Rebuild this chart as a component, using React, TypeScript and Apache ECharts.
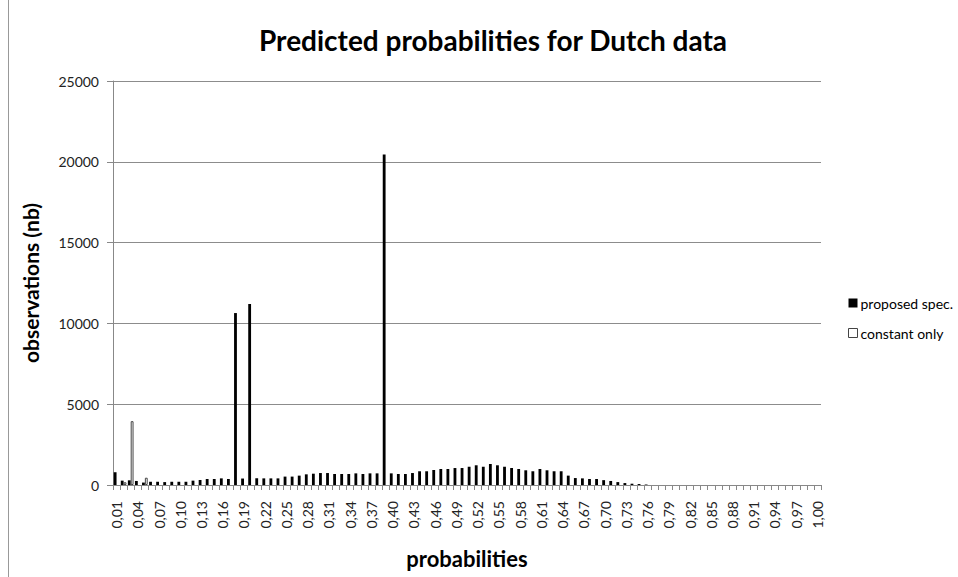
import React, { useEffect, useRef } from "react";
import * as echarts from "echarts";

const categories = [
  "0,01","0,02","0,03","0,04","0,05","0,06","0,07","0,08","0,09","0,10",
  "0,11","0,12","0,13","0,14","0,15","0,16","0,17","0,18","0,19","0,20",
  "0,21","0,22","0,23","0,24","0,25","0,26","0,27","0,28","0,29","0,30",
  "0,31","0,32","0,33","0,34","0,35","0,36","0,37","0,38","0,39","0,40",
  "0,41","0,42","0,43","0,44","0,45","0,46","0,47","0,48","0,49","0,50",
  "0,51","0,52","0,53","0,54","0,55","0,56","0,57","0,58","0,59","0,60",
  "0,61","0,62","0,63","0,64","0,65","0,66","0,67","0,68","0,69","0,70",
  "0,71","0,72","0,73","0,74","0,75","0,76","0,77","0,78","0,79","0,80",
  "0,81","0,82","0,83","0,84","0,85","0,86","0,87","0,88","0,89","0,90",
  "0,91","0,92","0,93","0,94","0,95","0,96","0,97","0,98","0,99","1,00",
];

const proposedSpec = [
  790, 270, 290, 250, 150, 200, 200, 180, 200, 200,
  200, 270, 310, 370, 370, 410, 370, 10640, 400, 11200,
  410, 410, 410, 410, 520, 520, 580, 660, 700, 740,
  740, 680, 680, 680, 720, 680, 720, 720, 20450, 720,
  680, 680, 740, 850, 850, 930, 990, 990, 1050, 1050,
  1130, 1220, 1130, 1300, 1220, 1130, 1050, 990, 910, 850,
  990, 910, 850, 850, 580, 430, 410, 370, 370, 300,
  250, 180, 120, 80, 60, 30, 0, 0, 0, 0,
  0, 0, 0, 0, 0, 0, 0, 0, 0, 0,
  0, 0, 0, 0, 0, 0, 0, 0, 0, 0,
];

const constantOnly = [
  null, 170, 3950, null, 450, null, null, null, null, null,
  null, null, null, null, null, null, null, null, null, null,
  null, null, null, null, null, null, null, null, null, null,
  null, null, null, null, null, null, null, null, null, null,
  null, null, null, null, null, null, null, null, null, null,
  null, null, null, null, null, null, null, null, null, null,
  null, null, null, null, null, null, null, null, null, null,
  null, null, null, null, null, null, null, null, null, null,
  null, null, null, null, null, null, null, null, null, null,
  null, null, null, null, null, null, null, null, null, null,
];

const seriesNames = ["proposed spec.", "constant only"];
const FONT = "Lato, 'Open Sans', sans-serif";

export default function App() {
  const ref = useRef<HTMLDivElement>(null);
  useEffect(() => {
    if (!ref.current) return;
    const chart = echarts.init(ref.current, undefined, { renderer: "svg" });
    chart.setOption({
      animation: false,
      backgroundColor: "#ffffff",
      title: {
        text: "Predicted probabilities for Dutch data",
        left: 488,
        textAlign: "center",
        top: 21,
        textStyle: { fontFamily: FONT, fontSize: 28, fontWeight: "bold", color: "#000" },
      },
      legend: {
        orient: "vertical",
        left: 843,
        top: 291,
        itemWidth: 9,
        itemHeight: 9,
        itemGap: 16,
        icon: "rect",
        textStyle: { fontFamily: FONT, fontSize: 14, color: "#000", padding: [0, 0, 0, -2] },
        data: [
          { name: seriesNames[0], itemStyle: { color: "#000", borderColor: "#000", borderWidth: 0 } },
          { name: seriesNames[1], itemStyle: { color: "#fff", borderColor: "#444", borderWidth: 1 } },
        ],
      },
      grid: { left: 113, right: 137, top: 81, bottom: 92, containLabel: false },
      xAxis: {
        type: "category",
        data: categories,
        name: "probabilities",
        nameLocation: "middle",
        nameGap: 62,
        nameTextStyle: { fontFamily: FONT, fontSize: 22, fontWeight: "bold", color: "#000" },
        axisLine: { lineStyle: { color: "#888", width: 1 } },
        axisTick: { show: true, interval: 0, length: 5, lineStyle: { color: "#888" } },
        axisLabel: {
          interval: 2,
          rotate: 90,
          margin: 16,
          fontFamily: FONT,
          fontSize: 14,
          color: "#222",
        },
      },
      yAxis: {
        type: "value",
        min: 0,
        max: 25000,
        interval: 5000,
        name: "observations (nb)",
        nameLocation: "middle",
        nameGap: 72,
        nameRotate: 90,
        nameTextStyle: { fontFamily: FONT, fontSize: 21, fontWeight: "bold", color: "#000" },
        axisLine: { show: true, lineStyle: { color: "#888", width: 1 } },
        axisTick: { show: true, length: 6, lineStyle: { color: "#888" } },
        axisLabel: {
          fontFamily: FONT,
          fontSize: 14,
          color: "#222",
          margin: 14,
          formatter: (v: number) => String(v),
        },
        splitLine: { show: true, lineStyle: { color: "#8c8c8c", width: 1 } },
      },
      series: [
        {
          name: seriesNames[0],
          type: "bar",
          data: proposedSpec,
          barGap: "0%",
          barCategoryGap: "20%",
          itemStyle: { color: "#000" },
        },
        {
          name: seriesNames[1],
          type: "bar",
          data: constantOnly,
          barGap: "0%",
          barCategoryGap: "20%",
          itemStyle: { color: "#fff", borderColor: "#444", borderWidth: 1 },
        },
      ],
      graphic: [
        {
          type: "line",
          shape: { x1: 8.5, y1: 0, x2: 8.5, y2: 577 },
          style: { stroke: "#999", lineWidth: 1 },
        },
      ],
    });
    return () => chart.dispose();
  }, []);
  return (
    <div
      ref={ref}
      style={{ position: "absolute", left: 0, top: 0, width: 958, height: 577 }}
    />
  );
}
